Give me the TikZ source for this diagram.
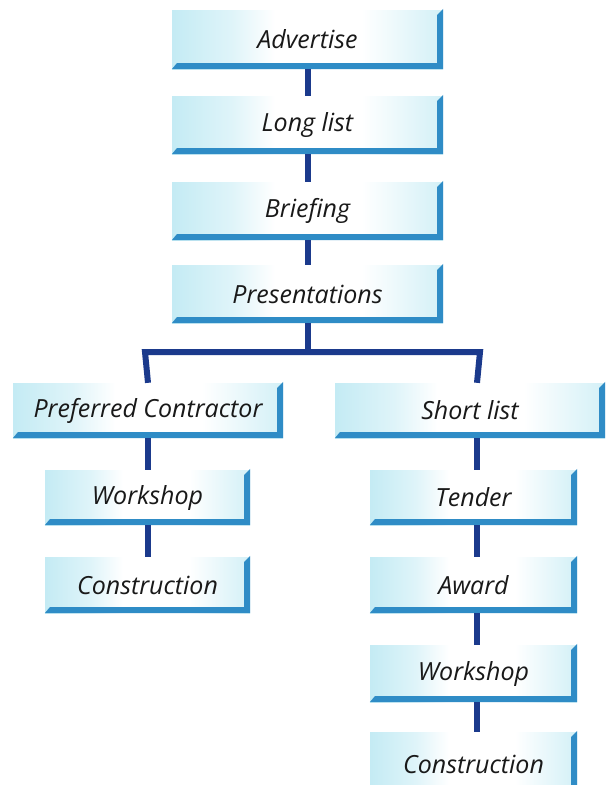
\documentclass[tikz,border=0pt]{standalone}
\usepackage{fontspec}
\setmainfont{Open Sans}
\usetikzlibrary{calc}
\definecolor{boxcyan}{HTML}{C4EBF4}
\definecolor{rimblue}{HTML}{2F8CC6}
\definecolor{linknavy}{HTML}{1B3A8C}
% pale cyan at both ends of a box, white in the middle
% (TikZ maps a box onto the 25bp--75bp part of the shading)
\pgfdeclarehorizontalshading{stagefill}{100bp}{color(0bp)=(boxcyan); color(25bp)=(boxcyan);
  color(36bp)=(boxcyan!55!white); color(44bp)=(white); color(60bp)=(white);
  color(75bp)=(boxcyan!75!white); color(100bp)=(boxcyan!75!white)}
\tikzset{
  stagebox/.style={rectangle, inner sep=0pt, shading=stagefill,
    font=\itshape\fontsize{25}{25}\selectfont, text=black!90},
  link/.style={draw=linknavy, line width=6pt},
}
% blue rim on the right and lower edges of a box, with slanted ends
\newcommand{\rim}[1]{%
  \fill[rimblue] ($(#1.north east)+(-6pt,-5pt)$) -- ($(#1.north east)+(0pt,1pt)$)
    -- (#1.south east) -- (#1.south west) -- ($(#1.south west)+(5pt,6pt)$)
    -- ($(#1.south east)+(-6pt,6pt)$) -- cycle;}
\begin{document}
\begin{tikzpicture}[x=1pt,y=1pt]
\clip (0,0) rectangle (610,-785);
\fill[white] (0,0) rectangle (610,-785);
% main column
\node[stagebox, minimum width=271pt, minimum height=59pt] (adv)   at (307.5,-39.5) {Advertise};
\node[stagebox, minimum width=271pt, minimum height=58pt] (long)  at (307.5,-125)  {Long list};
\node[stagebox, minimum width=271pt, minimum height=58pt] (brief) at (307.5,-211)  {Briefing};
\node[stagebox, minimum width=271pt, minimum height=58pt] (pres)  at (307.5,-294)  {Presentations};
% left branch
\node[stagebox, minimum width=270pt, minimum height=55pt] (pref)  at (148,-410.5)   {Preferred Contractor};
\node[stagebox, minimum width=205pt, minimum height=55pt] (wsl)   at (147.5,-497.5) {Workshop};
\node[stagebox, minimum width=205pt, minimum height=56pt] (conl)  at (147.5,-585)   {Construction};
% right branch
\node[stagebox, minimum width=270pt, minimum height=55pt] (short) at (470,-410.5)   {Short list};
\node[stagebox, minimum width=207pt, minimum height=55pt] (tend)  at (473.5,-497.5) {Tender};
\node[stagebox, minimum width=207pt, minimum height=56pt] (award) at (473.5,-585)   {Award};
\node[stagebox, minimum width=207pt, minimum height=57pt] (wsr)   at (473.5,-673.5) {Workshop};
\node[stagebox, minimum width=207pt, minimum height=64pt] (conr)  at (473.5,-764)   {Construction};
\foreach \n in {adv,long,brief,pres,pref,wsl,conl,short,tend,award,wsr,conr} {\rim{\n}}
% connectors
\coordinate (bus)  at (307.5,-352);
\coordinate (lcol) at (148,-352);
\coordinate (rcol) at (477,-352);
\draw[link] (adv.south) -- (long.north);
\draw[link] (long.south) -- (brief.north);
\draw[link] (brief.south) -- (pres.north);
\draw[link] (pres.south) -- (bus);
\draw[link] (pref.north -| lcol) -- ([xshift=-3pt]lcol) -- ([xshift=3pt]rcol) -- (short.north -| rcol);
\draw[link] (pref.south -| lcol) -- (wsl.north -| lcol);
\draw[link] (wsl.south -| lcol) -- (conl.north -| lcol);
\draw[link] (short.south -| rcol) -- (tend.north -| rcol);
\draw[link] (tend.south -| rcol) -- (award.north -| rcol);
\draw[link] (award.south -| rcol) -- (wsr.north -| rcol);
\draw[link] (wsr.south -| rcol) -- (conr.north -| rcol);
\end{tikzpicture}
\end{document}
